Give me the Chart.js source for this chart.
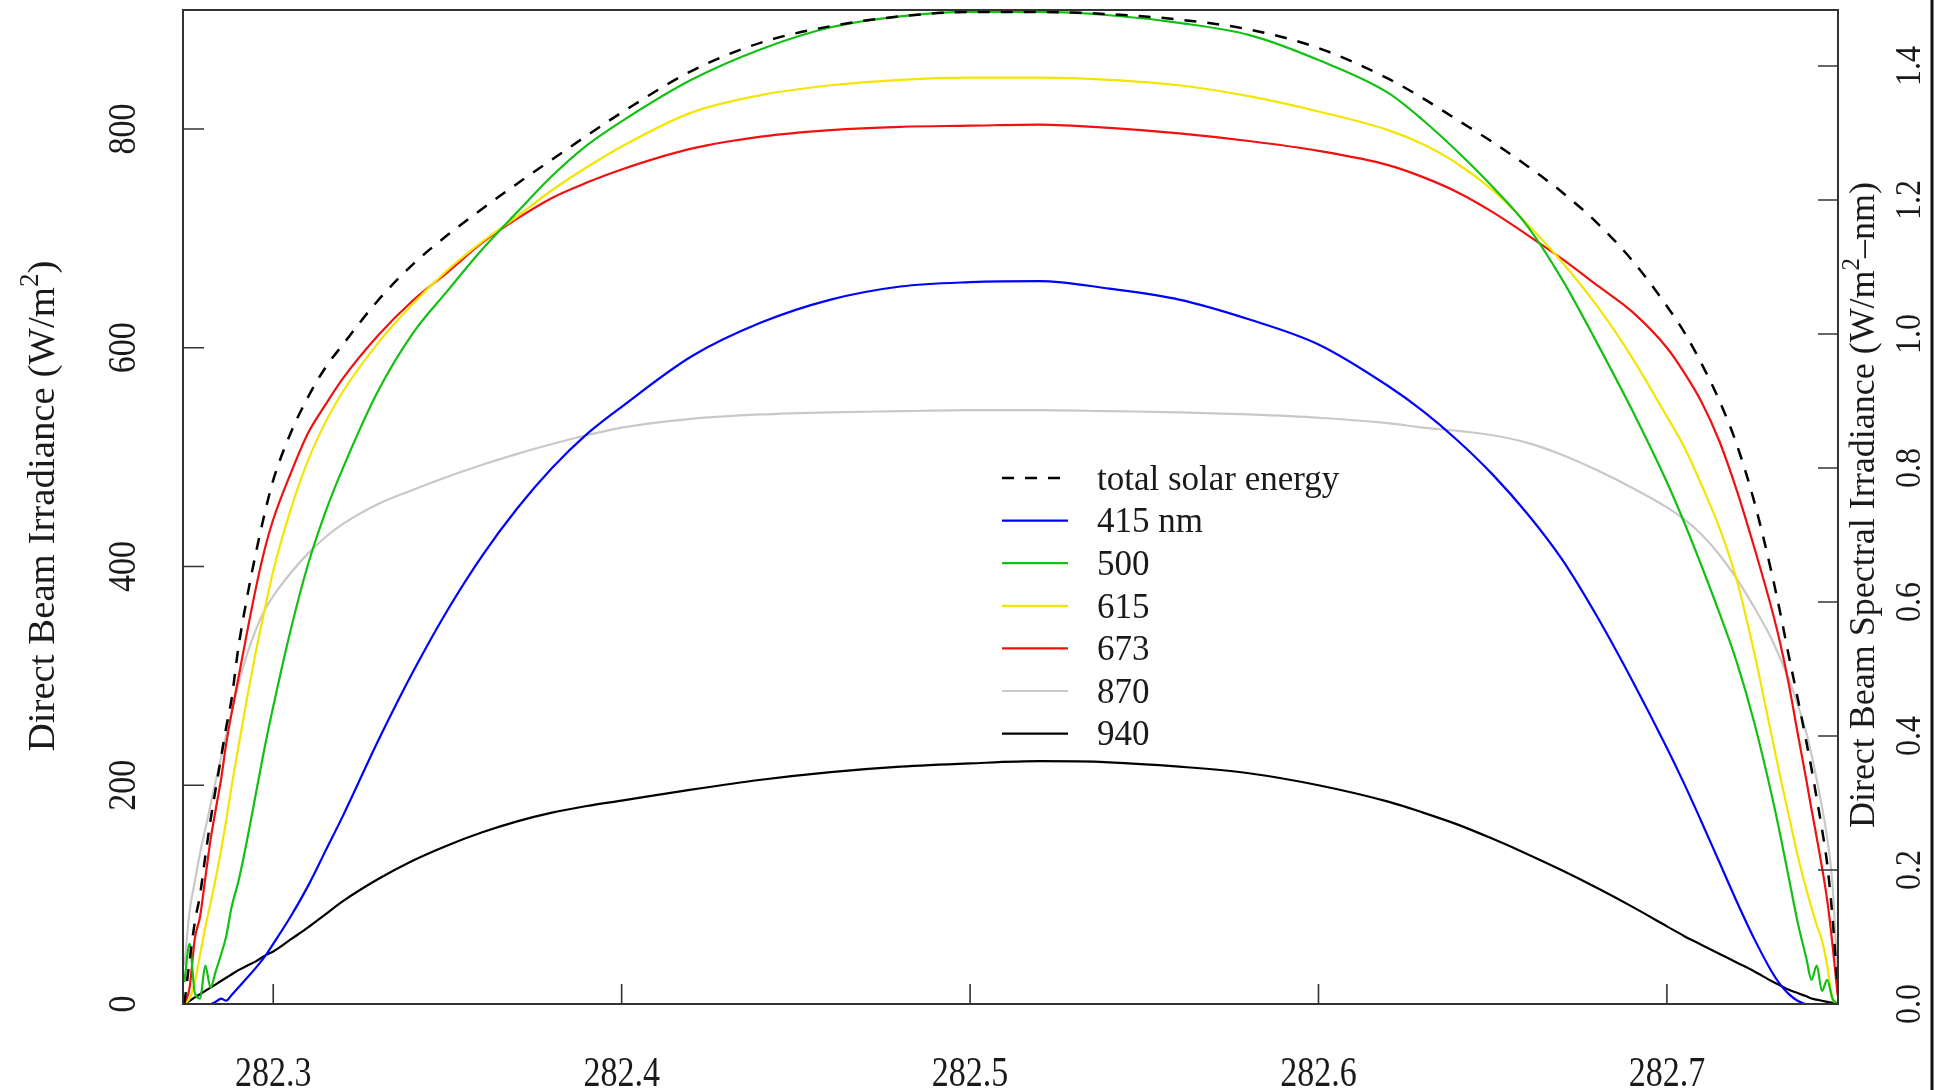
<!DOCTYPE html>
<html>
<head>
<meta charset="utf-8">
<script src="https://cdn.jsdelivr.net/npm/chart.js@4.4.1/dist/chart.umd.min.js"></script>
<style>
html,body{margin:0;padding:0;background:#fff;}
#wrap{width:1937px;height:1090px;}
</style>
</head>
<body>
<div id="wrap"><canvas id="c" width="1937" height="1090"></canvas></div>
<script>
// ---- data ----
const xValues = [282.2745,282.276,282.2775,282.279,282.2805,282.282,282.2835,282.285,282.2865,282.288,282.29,282.2925,282.295,282.2975,282.30,282.305,282.31,282.315,282.32,282.33,282.34,282.35,282.36,282.37,282.38,282.39,282.40,282.42,282.44,282.46,282.48,282.50,282.52,282.54,282.56,282.58,282.60,282.62,282.63,282.64,282.65,282.66,282.67,282.68,282.69,282.70,282.705,282.71,282.715,282.72,282.725,282.73,282.7325,282.735,282.7375,282.74,282.7415,282.743,282.7445,282.746,282.7475,282.749];
const totalSolar = [0,40,75,100,135,168,197,225,253,278,326,372,412,448,479,522,555,582,603,643,676,703,727,750,772,794,815,853,879,894,903,907,907,905,900,891,874,846,828,808,788,766,742,714,680,638,614,585,552,512,460,395,358,318,280,240,215,188,160,128,80,15];
const nm415 = [0,0,0,0,0,0,2,5,3,8,15,24,33,43,55,80,108,140,172,240,303,360,410,453,490,521,546,592,623,644,656,660,661,654,644,626,603,565,542,515,484,448,406,354,296,234,201,166,130,94,60,30,18,9,3,0,0,0,0,0,0,0];
const nm500 = [20,55,10,5,35,15,30,45,62,88,112,150,192,234,272,342,402,450,490,560,613,652,690,724,757,785,807,845,873,893,903,907,907,904,897,886,863,833,808,779,747,711,662,604,543,477,440,400,358,313,258,192,155,115,75,42,22,35,12,22,5,0];
const nm615 = [0,5,20,45,70,92,115,140,168,198,235,280,322,360,396,452,497,532,560,604,640,671,697,720,744,765,784,815,831,840,845,847,847,845,840,830,816,799,786,768,744,713,678,638,591,537,509,474,436,388,322,246,208,172,136,105,88,72,58,35,5,0];
const nm673 = [0,15,60,80,115,150,178,205,238,265,298,340,380,415,443,485,522,548,572,611,643,669,696,718,737,751,763,782,793,799,802,803,804,801,796,789,780,767,756,742,724,703,681,657,633,600,577,550,515,470,418,362,330,292,248,205,178,152,125,95,55,8];
const nm870 = [35,85,112,138,160,182,204,225,246,266,292,320,342,360,373,394,412,427,439,457,470,482,493,503,512,520,527,535,539,541,542,543,543,542,541,539,536,531,527,524,520,513,502,488,472,454,443,429,411,389,363,334,316,297,274,248,228,205,180,152,110,25];
const nm940 = [0,3,6,9,12,15,18,21,24,27,31,35,39,44,48,59,70,82,94,114,131,145,157,167,175,181,186,196,205,212,217,220,222,221,217,211,200,185,175,164,151,137,122,106,89,71,62,54,46,38,30,21,17,13,10,7,5,4,3,2,1,0];

const xTicks = [282.3,282.4,282.5,282.6,282.7];
const yTicks = [0,200,400,600,800];
const y2Ticks = [0.0,0.2,0.4,0.6,0.8,1.0,1.2,1.4];

const seriesNames = ['total solar energy','415 nm','500','615','673','870','940'];
const seriesData = [totalSolar,nm415,nm500,nm615,nm673,nm870,nm940];
const seriesColors = ['#000000','#0000ff','#12c012','#f2e600','#f01010','#c8c8c8','#000000'];
const seriesDash = [[12,11],[],[],[],[],[],[]];
const seriesWidth = [2.5,2.2,2.2,2.2,2.2,2.2,2.2];

const FONT = '"Liberation Serif","Times New Roman",serif';
const TXT = '#1a1a1a';

function drawText(ctx, text, x, y, rot, sy, size, align){
  ctx.save();
  ctx.translate(x, y);
  if (rot) ctx.rotate(rot);
  ctx.scale(1, sy);
  ctx.font = size + 'px ' + FONT;
  ctx.fillStyle = TXT;
  ctx.textAlign = align || 'center';
  ctx.textBaseline = 'alphabetic';
  ctx.fillText(text, 0, 0.338*size);
  ctx.restore();
}

// title with superscript: parts = [[text, isSup], ...]
function drawTitle(ctx, parts, cx, cy, size){
  ctx.save();
  ctx.translate(cx, cy);
  ctx.rotate(-Math.PI/2);
  ctx.fillStyle = TXT;
  ctx.textBaseline = 'alphabetic';
  ctx.textAlign = 'left';
  const supSize = Math.round(size*0.7);
  let w = 0;
  parts.forEach(p => { ctx.font = (p[1]?supSize:size)+'px '+FONT; w += ctx.measureText(p[0]).width; });
  let x = -w/2;
  const base = 0.338*size;
  parts.forEach(p => {
    ctx.font = (p[1]?supSize:size)+'px '+FONT;
    ctx.fillText(p[0], x, p[1] ? base - 0.42*size : base);
    x += ctx.measureText(p[0]).width;
  });
  ctx.restore();
}

const decor = {
  id: 'decor',
  afterDatasetsDraw(chart){
    const ctx = chart.ctx;
    const a = chart.chartArea;
    const sx = chart.scales.x, sy = chart.scales.y, sy2 = chart.scales.y2;
    ctx.save();
    ctx.strokeStyle = '#333';
    ctx.lineWidth = 2;
    ctx.strokeRect(a.left, a.top, a.right - a.left, a.bottom - a.top);
    ctx.lineWidth = 1.6;
    ctx.beginPath();
    xTicks.forEach(v => { const p = sx.getPixelForValue(v); ctx.moveTo(p, a.bottom); ctx.lineTo(p, a.bottom - 20); });
    yTicks.forEach(v => { const p = sy.getPixelForValue(v); ctx.moveTo(a.left, p); ctx.lineTo(a.left + 21, p); });
    y2Ticks.forEach(v => { const p = sy2.getPixelForValue(v); ctx.moveTo(a.right, p); ctx.lineTo(a.right - 20, p); });
    ctx.stroke();
    ctx.restore();

    xTicks.forEach(v => drawText(ctx, v.toFixed(1), sx.getPixelForValue(v), 1072, 0, 1.22, 34));
    yTicks.forEach(v => drawText(ctx, String(v), 122, sy.getPixelForValue(v), -Math.PI/2, 1.15, 34));
    y2Ticks.forEach(v => drawText(ctx, v.toFixed(1), 1908, sy2.getPixelForValue(v), -Math.PI/2, 1.15, 32));

    drawTitle(ctx, [['Direct Beam Irradiance (W/m',false],['2',true],[')',false]], 41, 506, 38.8);
    drawTitle(ctx, [['Direct Beam Spectral Irradiance (W/m',false],['2',true],['\u2013nm)',false]], 1862, 505, 36);

    const lx0 = 1002, lx1 = 1068, tx = 1097, ly0 = 478, dy = 42.6;
    seriesNames.forEach((name, i) => {
      const y = ly0 + i*dy;
      ctx.save();
      ctx.strokeStyle = seriesColors[i];
      ctx.lineWidth = seriesWidth[i];
      ctx.setLineDash(seriesDash[i]);
      ctx.beginPath(); ctx.moveTo(lx0, y); ctx.lineTo(lx1, y); ctx.stroke();
      ctx.restore();
      drawText(ctx, name, tx, y, 0, 1.0, 35, 'left');
    });

    ctx.save();
    ctx.strokeStyle = '#111';
    ctx.lineWidth = 3;
    ctx.beginPath(); ctx.moveTo(1932, 0); ctx.lineTo(1932, 1090); ctx.stroke();
    ctx.restore();
  }
};

const datasets = seriesNames.map((name, i) => ({
  label: name,
  data: xValues.map((x, j) => ({x: x, y: seriesData[i][j]})),
  borderColor: seriesColors[i],
  borderWidth: seriesWidth[i],
  borderDash: seriesDash[i],
  pointRadius: 0,
  fill: false,
  cubicInterpolationMode: 'monotone',
  yAxisID: 'y'
}));

new Chart(document.getElementById('c'), {
  type: 'line',
  data: { datasets },
  options: {
    responsive: false,
    animation: false,
    devicePixelRatio: 1,
    layout: { padding: { left: 183, right: 99, top: 10, bottom: 86 } },
    plugins: { legend: { display: false }, tooltip: { enabled: false } },
    scales: {
      x: { type: 'linear', min: 282.2741, max: 282.7491, display: false },
      y: { type: 'linear', min: 0, max: 908.8, display: false },
      y2: { type: 'linear', position: 'right', min: 0, max: 1.4836, display: false }
    }
  },
  plugins: [decor]
});
</script>
</body>
</html>
